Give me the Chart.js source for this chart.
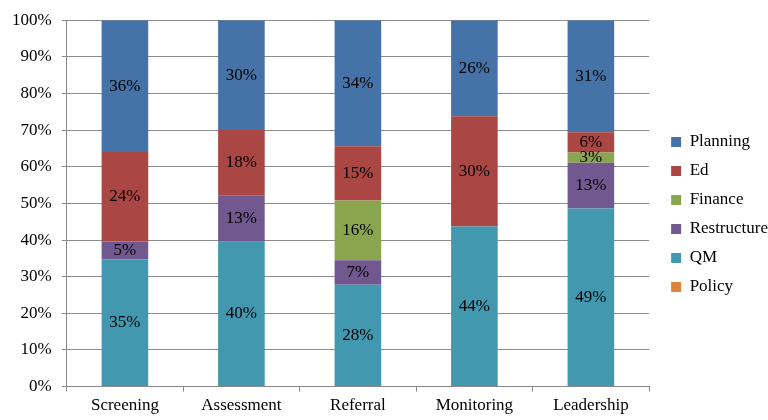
<!DOCTYPE html>
<html>
<head>
<meta charset="utf-8">
<script src="https://cdn.jsdelivr.net/npm/chart.js@4"></script>
<style>
  html, body { margin: 0; padding: 0; background: #fff; }
  #wrap { width: 768px; height: 420px; }
</style>
</head>
<body>
<div id="wrap"><canvas id="chart"></canvas></div>
<script>
// Chart Data
const categories = ['Screening', 'Assessment', 'Referral', 'Monitoring', 'Leadership'];
const policy      = [0, 0, 0, 0, 0];
const qm          = [34.7, 39.5, 27.8, 43.7, 48.6];
const restructure = [4.9, 12.6, 6.7, 0, 12.5];
const finance     = [0, 0, 16.3, 0, 2.8];
const ed          = [24.4, 17.9, 14.8, 30.1, 5.5];
const planning    = [36.0, 30.0, 34.4, 26.2, 30.6];
const yTicks = [0, 10, 20, 30, 40, 50, 60, 70, 80, 90, 100];

const serif = "'Liberation Serif', 'Times New Roman', serif";

// draws the percentage inside each segment
const segmentLabels = {
    id: 'segmentLabels',
    afterDatasetsDraw(chart) {
        const ctx = chart.ctx;
        ctx.save();
        ctx.font = '17px ' + serif;
        ctx.fillStyle = '#000';
        ctx.textAlign = 'center';
        ctx.textBaseline = 'middle';
        chart.data.datasets.forEach((ds, i) => {
            const meta = chart.getDatasetMeta(i);
            if (meta.hidden) return;
            meta.data.forEach((bar, j) => {
                const v = ds.data[j];
                if (!v) return;
                const mid = (bar.y + bar.base) / 2;
                ctx.fillText(Math.round(v) + '%', bar.x, mid);
            });
        });
        ctx.restore();
    }
};

// legend sits a bit further from the plot, like the original
const legendShift = {
    id: 'legendShift',
    afterLayout(chart) {
        chart.legend.left += 10;
        chart.legend.right += 10;
    }
};

const chartData = {
    labels: categories,
    datasets: [
        { label: 'Policy', data: policy, backgroundColor: '#DB843D' },
        { label: 'QM', data: qm, backgroundColor: '#4198AF' },
        { label: 'Restructure', data: restructure, backgroundColor: '#71588F' },
        { label: 'Finance', data: finance, backgroundColor: '#89A54E' },
        { label: 'Ed', data: ed, backgroundColor: '#AA4643' },
        { label: 'Planning', data: planning, backgroundColor: '#4572A7' }
    ]
};

const config = {
    type: 'bar',
    data: chartData,
    plugins: [segmentLabels, legendShift],
    options: {
        responsive: true,
        maintainAspectRatio: false,
        animation: false,
        categoryPercentage: 1,
        barPercentage: 0.4,
        layout: { padding: { top: 9, left: 2, bottom: 0, right: 0 } },
        plugins: {
            legend: {
                position: 'right',
                reverse: true,
                labels: {
                    font: { family: serif, size: 17 },
                    color: '#000',
                    boxWidth: 10,
                    boxHeight: 10,
                    padding: 12
                }
            },
            tooltip: { enabled: false }
        },
        scales: {
            x: {
                stacked: true,
                grid: { drawOnChartArea: false, offset: true, color: '#888', tickLength: 5 },
                border: { color: '#888' },
                ticks: { font: { family: serif, size: 17 }, color: '#000', padding: 4 }
            },
            y: {
                stacked: true,
                min: 0,
                max: 100,
                afterBuildTicks(axis) { axis.ticks = yTicks.map(v => ({ value: v })); },
                grid: { color: '#8c8c8c', tickLength: 5 },
                border: { color: '#888' },
                ticks: {
                    font: { family: serif, size: 17 },
                    color: '#000',
                    padding: 10,
                    callback: v => v + '%'
                }
            }
        }
    }
};

const chart = new Chart(document.getElementById('chart'), config);
</script>
</body>
</html>
